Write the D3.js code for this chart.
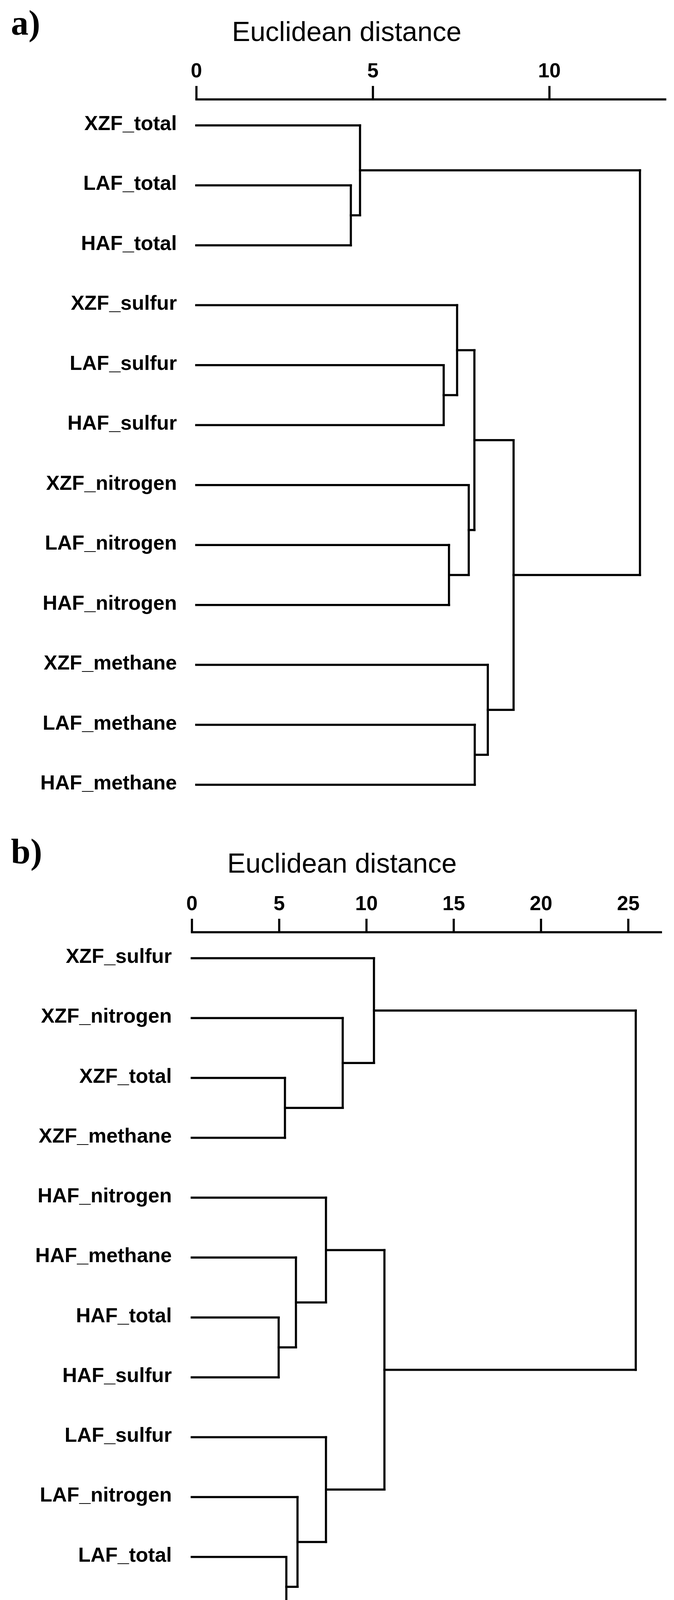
<!DOCTYPE html>
<html>
<head>
<meta charset="utf-8">
<script src="https://cdn.jsdelivr.net/npm/d3@7"></script>
<style>
  html, body { margin: 0; padding: 0; background: #fff; overflow: hidden; }
  svg { display: block; }
</style>
</head>
<body>
<svg id="chart" width="1726" height="4188"></svg>
<script>
// ---------- DATA ----------
const titleText = "Euclidean distance";

// Panel a
const leavesA = ["XZF_total","LAF_total","HAF_total","XZF_sulfur","LAF_sulfur","HAF_sulfur",
                 "XZF_nitrogen","LAF_nitrogen","HAF_nitrogen","XZF_methane","LAF_methane","HAF_methane"];
// merges: [child1, child2, height]; children are leaf names or "m<k>" (k-th merge)
const mergesA = [
  ["LAF_total","HAF_total",4.38],        // m0
  ["XZF_total","m0",4.64],               // m1
  ["LAF_sulfur","HAF_sulfur",7.01],      // m2
  ["XZF_sulfur","m2",7.39],              // m3
  ["LAF_nitrogen","HAF_nitrogen",7.16],  // m4
  ["XZF_nitrogen","m4",7.72],            // m5
  ["m3","m5",7.88],                      // m6
  ["LAF_methane","HAF_methane",7.89],    // m7
  ["XZF_methane","m7",8.26],             // m8
  ["m6","m8",8.99],                      // m9
  ["m1","m9",12.57]                      // m10
];
const ticksA = [0,5,10];
const axisMaxA = 13.28;

// Panel b
const leavesB = ["XZF_sulfur","XZF_nitrogen","XZF_total","XZF_methane","HAF_nitrogen","HAF_methane",
                 "HAF_total","HAF_sulfur","LAF_sulfur","LAF_nitrogen","LAF_total","LAF_methane"];
const mergesB = [
  ["XZF_total","XZF_methane",5.34],      // m0
  ["XZF_nitrogen","m0",8.65],            // m1
  ["XZF_sulfur","m1",10.44],             // m2
  ["HAF_total","HAF_sulfur",4.98],       // m3
  ["HAF_methane","m3",5.97],             // m4
  ["HAF_nitrogen","m4",7.69],            // m5
  ["LAF_total","LAF_methane",5.42],      // m6
  ["LAF_nitrogen","m6",6.06],            // m7
  ["LAF_sulfur","m7",7.69],              // m8
  ["m5","m8",11.04],                     // m9
  ["m2","m9",25.44]                      // m10
];
const ticksB = [0,5,10,15,20,25];
const axisMaxB = 26.87;

// ---------- DRAW ----------
const svg = d3.select("#chart");
const LW = 5.5;

function panel(cfg) {
  const g = svg.append("g");
  const x = d3.scaleLinear().domain([0, cfg.axisMax]).range([cfg.x0, cfg.x1]);
  const y = d3.scalePoint().domain(cfg.leaves).range([cfg.yTop, cfg.yBot]);

  // panel letter
  g.append("text")
    .attr("x", 28).attr("y", cfg.letterY)
    .attr("font-family", "'Liberation Serif','DejaVu Serif',serif")
    .attr("font-weight", "bold").attr("font-size", 90)
    .attr("fill", "#000")
    .text(cfg.letter);

  // title
  g.append("text")
    .attr("x", cfg.titleX).attr("y", cfg.titleY)
    .attr("font-family", "'Liberation Sans',Arial,sans-serif")
    .attr("font-size", 70).attr("fill", "#000")
    .text(titleText);

  // axis
  const axis = d3.axisTop(x).tickValues(cfg.ticks).tickSize(34).tickSizeOuter(0).tickPadding(22)
    .tickFormat(d3.format("d"));
  const ag = g.append("g").attr("transform", `translate(0,${cfg.axisY})`).call(axis);
  ag.select(".domain").attr("stroke", "#000").attr("stroke-width", LW).attr("stroke-linecap", "square");
  ag.selectAll(".tick line").attr("stroke", "#000").attr("stroke-width", LW);
  ag.selectAll(".tick text")
    .attr("font-family", "'Liberation Sans',Arial,sans-serif")
    .attr("font-weight", "bold").attr("font-size", 52).attr("fill", "#000");

  // node positions from the linkage list
  const pos = {};
  cfg.leaves.forEach(n => { pos[n] = { y: y(n), h: 0 }; });
  const segs = [];
  cfg.merges.forEach((m, k) => {
    const a = pos[m[0]], b = pos[m[1]], h = m[2];
    segs.push([x(a.h), a.y, x(h), a.y]);
    segs.push([x(b.h), b.y, x(h), b.y]);
    segs.push([x(h), a.y, x(h), b.y]);
    pos["m" + k] = { y: (a.y + b.y) / 2, h: h };
  });

  g.append("g").selectAll("path").data(segs).join("path")
    .attr("d", s => `M${s[0]},${s[1]}L${s[2]},${s[3]}`)
    .attr("stroke", "#000").attr("stroke-width", LW)
    .attr("stroke-linecap", "square").attr("fill", "none");

  // leaf labels
  g.append("g").selectAll("text").data(cfg.leaves).join("text")
    .attr("x", cfg.labelX).attr("y", d => y(d) + 12)
    .attr("text-anchor", "end")
    .attr("font-family", "'Liberation Sans',Arial,sans-serif")
    .attr("font-weight", "bold").attr("font-size", 52).attr("fill", "#000")
    .text(d => d);
}

panel({
  letter: "a)", letterY: 89,
  leaves: leavesA, merges: mergesA, ticks: ticksA, axisMax: axisMaxA,
  x0: 502.5, x1: 1703, yTop: 321, yBot: 2009,
  axisY: 254, titleX: 594, titleY: 105, labelX: 453
});
panel({
  letter: "b)", letterY: 2210,
  leaves: leavesB, merges: mergesB, ticks: ticksB, axisMax: axisMaxB,
  x0: 491, x1: 1692, yTop: 2453, yBot: 4139,
  axisY: 2386, titleX: 582, titleY: 2234, labelX: 440
});
</script>
</body>
</html>
